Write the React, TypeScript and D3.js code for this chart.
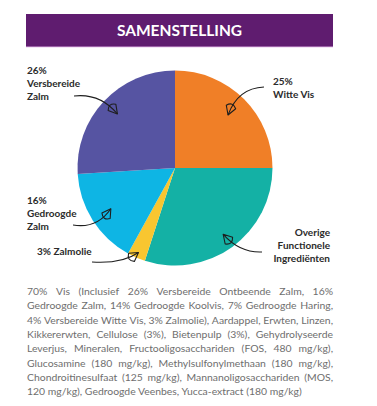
import React from "react";
import * as d3 from "d3";

const sliceNames = ["Witte Vis", "Overige Functionele Ingrediënten", "Zalmolie", "Gedroogde Zalm", "Versbereide Zalm"];
const sliceValues = [25, 30, 3, 16, 26];
const sliceColors = ["#f07f27", "#14b1a5", "#f8c630", "#0eb5e4", "#5654a2"];

const labelLines = [
  ["25%", "Witte Vis"],
  ["Overige", "Functionele", "Ingrediënten"],
  ["3% Zalmolie"],
  ["16%", "Gedroogde", "Zalm"],
  ["26%", "Versbereide", "Zalm"],
];

const bodyLines = [
  "70% Vis (Inclusief 26% Versbereide Ontbeende Zalm, 16%",
  "Gedroogde Zalm, 14% Gedroogde Koolvis, 7% Gedroogde Haring,",
  "4% Versbereide Witte Vis, 3% Zalmolie), Aardappel, Erwten, Linzen,",
  "Kikkererwten, Cellulose (3%), Bietenpulp (3%), Gehydrolyseerde",
  "Leverjus, Mineralen, Fructooligosacchariden (FOS, 480 mg/kg),",
  "Glucosamine (180 mg/kg), Methylsulfonylmethaan (180 mg/kg),",
  "Chondroitinesulfaat (125 mg/kg), Mannanoligosacchariden (MOS,",
  "120 mg/kg), Gedroogde Veenbes, Yucca-extract (180 mg/kg)",
];

const W = 377, H = 406;
const cx = 175, cy = 168, R = 97.5;

const labelLayout = [
  { x: 273, y: 85, anchor: "start", sx: 264, sy: 87, qx: 238, qy: 88, tipR: 75 },
  { x: 330, y: 236, anchor: "end", sx: 262, sy: 252, qx: 240, qy: 253, tipR: 82 },
  { x: 37, y: 255, anchor: "start", sx: 92, sy: 262, qx: 122, qy: 264, tipR: 92 },
  { x: 27, y: 204, anchor: "start", sx: 73, sy: 225, qx: 97, qy: 229, tipR: 76 },
  { x: 27, y: 74, anchor: "start", sx: 74, sy: 96, qx: 100, qy: 93, tipR: 79 },
];

function measure(text: string, font: string) {
  const c = document.createElement("canvas");
  const ctx = c.getContext("2d")!;
  ctx.font = font;
  return ctx.measureText(text).width;
}

function arrowHead(tx: number, ty: number, fx: number, fy: number) {
  const ang = Math.atan2(ty - fy, tx - fx);
  const L = 8.5, Wd = 5;
  const bx = tx - L * Math.cos(ang), by = ty - L * Math.sin(ang);
  const px = -Math.sin(ang), py = Math.cos(ang);
  const p1 = [bx + Wd * px, by + Wd * py];
  const p2 = [bx - Wd * px, by - Wd * py];
  return `M${tx},${ty}L${p1[0]},${p1[1]}Q${bx - 6 * Math.cos(ang)},${by - 6 * Math.sin(ang)} ${p2[0]},${p2[1]}Z`;
}

export default function App() {
  const pie = d3.pie<number>().sort(null).value((d) => d)(sliceValues);
  const arc = d3.arc<d3.PieArcDatum<number>>().innerRadius(0).outerRadius(R);

  const fontSize = 10.4;
  const bodyFont = `${fontSize}px Lato`;
  const left = 27, right = 333, top = 295, lh = 14.3;

  return (
    <svg width={W} height={H} style={{ position: "absolute", left: 0, top: 0, background: "#fff" }}>
      <rect x={26} y={14} width={307} height={33} fill="#5f1c6f" />
      <rect x={26} y={46.5} width={307} height={0.8} fill="#d9a6e0" />
      <text x={179.5} y={36} textAnchor="middle" fill="#fff" fontFamily="Lato" fontWeight={700} fontSize={15.5}>
        SAMENSTELLING
      </text>
      <g transform={`translate(${cx},${cy})`}>
        {pie.map((p, i) => (
          <path key={i} d={arc(p)!} fill={sliceColors[i]} />
        ))}
      </g>
      {pie.map((p, i) => {
        const L = labelLayout[i];
        const mid = (p.startAngle + p.endAngle) / 2;
        const tx = cx + L.tipR * Math.sin(mid);
        const ty = cy - L.tipR * Math.cos(mid);
        return (
          <g key={"a" + i}>
            <path d={`M${L.sx},${L.sy}Q${L.qx},${L.qy} ${tx},${ty}`} fill="none" stroke="#1e1e1e" strokeWidth={1.1} />
            <path d={arrowHead(tx, ty, L.qx, L.qy)} fill="none" stroke="#1e1e1e" strokeWidth={1.1} strokeLinejoin="round" />
            <text x={L.x} y={L.y} textAnchor={L.anchor as any} fontFamily="Lato" fontWeight={700} fontSize={10} fill="#2b2b2b">
              {labelLines[i].map((t, j) => (
                <tspan key={j} x={L.x} dy={j === 0 ? 0 : 13}>{t}</tspan>
              ))}
            </text>
          </g>
        );
      })}
      {bodyLines.map((line, i) => {
        const y = top + i * lh;
        const last = i === bodyLines.length - 1;
        const words = line.split(" ");
        if (last) {
          return (
            <text key={"b" + i} x={left} y={y} fontFamily="Lato" fontSize={fontSize} fill="#6e6e6e">{line}</text>
          );
        }
        const widths = words.map((w) => measure(w, bodyFont));
        const total = d3.sum(widths);
        const gap = (right - left - total) / (words.length - 1);
        let x = left;
        return (
          <g key={"b" + i}>
            {words.map((w, j) => {
              const el = (
                <text key={j} x={x} y={y} fontFamily="Lato" fontSize={fontSize} fill="#6e6e6e">{w}</text>
              );
              x += widths[j] + gap;
              return el;
            })}
          </g>
        );
      })}
    </svg>
  );
}
